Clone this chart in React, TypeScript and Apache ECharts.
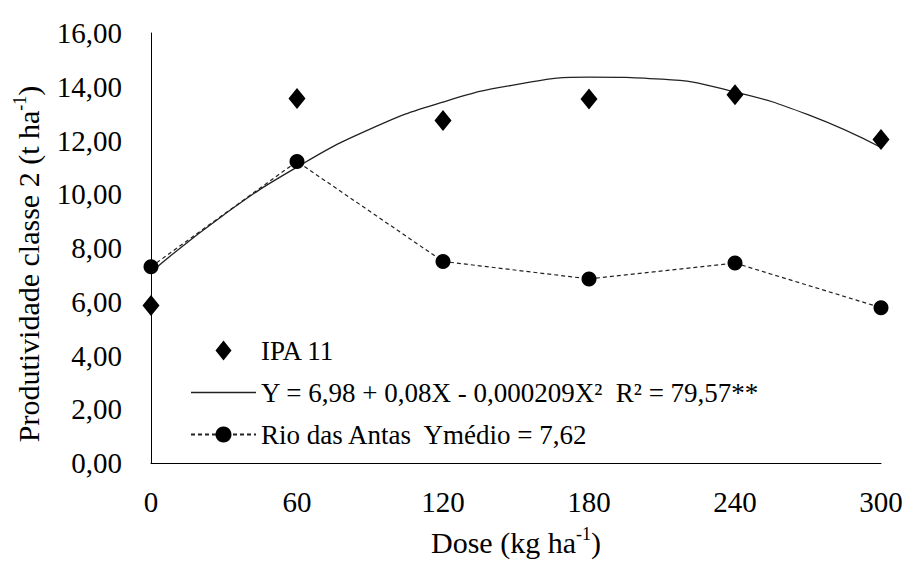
import React, { useEffect, useRef } from "react";
import * as echarts from "echarts";

// Nitrogen doses (kg ha-1) and class-2 yield (t ha-1)
const doses = [0, 60, 120, 180, 240, 300];
const ipa11 = [5.86, 13.56, 12.74, 13.54, 13.7, 12.04];
const rioDasAntas = [7.3, 11.22, 7.5, 6.85, 7.44, 5.78];

// Quadratic trend for IPA 11, sampled along the drawn curve
const trendDoses = [0, 30, 60, 90, 120, 150, 180, 210, 240, 270, 300];
const trendValues = [7.1, 9.24, 11.01, 12.42, 13.43, 14.08, 14.36, 14.28, 13.8, 12.96, 11.74];

const yTicks = { min: 0, max: 16, interval: 2 };
const xTicks = { min: 0, max: 300, interval: 60 };

const NAME_IPA = "IPA 11";
const NAME_TREND = "Y = 6,98 + 0,08X - 0,000209X²  R² = 79,57**";
const NAME_RIO = "Rio das Antas  Ymédio = 7,62";

const FONT = "Liberation Serif, Times New Roman, serif";

export default function App() {
  const ref = useRef<HTMLDivElement>(null);

  useEffect(() => {
    if (!ref.current) return;
    const chart = echarts.init(ref.current, undefined, { renderer: "svg" });

    const nameRich = {
      n: { fontSize: 30, fontFamily: FONT, color: "#000", lineHeight: 34 },
      s: { fontSize: 18, fontFamily: FONT, color: "#000", verticalAlign: "top", lineHeight: 34 },
    };

    chart.setOption({
      animation: false,
      backgroundColor: "#fff",
      textStyle: { fontFamily: FONT },
      grid: { left: 151, right: 26, top: 33, bottom: 97 },
      legend: {
        orient: "vertical",
        left: 185,
        top: 332,
        itemWidth: 65,
        itemHeight: 20,
        itemGap: 15,
        symbolKeepAspect: true,
        textStyle: { fontFamily: FONT, fontSize: 27, color: "#000" },
        data: [
          { name: NAME_IPA, icon: "path://M8,0L16,10L8,20L0,10Z" },
          // plain solid stroke for the fitted curve
          { name: NAME_TREND, icon: "path://M0,0H65V1.3H0Z" },
          { name: NAME_RIO },
        ],
      },
      xAxis: {
        type: "value",
        min: xTicks.min,
        max: xTicks.max,
        interval: xTicks.interval,
        name: "{n|Dose (kg ha}{s|-1}{n|)}",
        nameLocation: "middle",
        nameGap: 62,
        nameTextStyle: { rich: nameRich },
        axisLine: { show: true, onZero: false, lineStyle: { color: "#000", width: 1 } },
        axisTick: { show: false },
        splitLine: { show: false },
        axisLabel: {
          margin: 24,
          fontFamily: FONT,
          fontSize: 29,
          color: "#000",
        },
      },
      yAxis: {
        type: "value",
        min: yTicks.min,
        max: yTicks.max,
        interval: yTicks.interval,
        name: "{n|Produtividade classe 2 (t ha}{s|-1}{n|)}",
        nameLocation: "middle",
        nameGap: 106,
        nameRotate: 90,
        nameTextStyle: { rich: nameRich, padding: [0, 32, 0, 0] },
        axisLine: { show: true, lineStyle: { color: "#000", width: 1 } },
        axisTick: { show: false },
        splitLine: { show: false },
        axisLabel: {
          margin: 29,
          fontFamily: FONT,
          fontSize: 29,
          color: "#000",
          formatter: (v: number) => v.toFixed(2).replace(".", ","),
        },
      },
      series: [
        {
          name: NAME_IPA,
          type: "scatter",
          symbol: "diamond",
          symbolSize: [17, 21],
          itemStyle: { color: "#000", opacity: 1 },
          clip: false,
          data: doses.map((d, i) => [d, ipa11[i]]),
          z: 4,
        },
        {
          name: NAME_TREND,
          type: "line",
          smooth: true,
          symbol: "none",
          showSymbol: false,
          lineStyle: { color: "#222", width: 1.3 },
          itemStyle: { color: "#222" },
          data: trendDoses.map((d, i) => [d, trendValues[i]]),
          z: 2,
        },
        {
          name: NAME_RIO,
          type: "line",
          symbol: "circle",
          symbolSize: 15,
          clip: false,
          lineStyle: { color: "#222", width: 1.2, type: [4, 3] },
          itemStyle: { color: "#000" },
          data: doses.map((d, i) => [d, rioDasAntas[i]]),
          z: 3,
        },
      ],
    });

    return () => chart.dispose();
  }, []);

  return (
    <div
      ref={ref}
      style={{ position: "fixed", left: 0, top: 0, width: 907, height: 562, background: "#fff" }}
    />
  );
}
